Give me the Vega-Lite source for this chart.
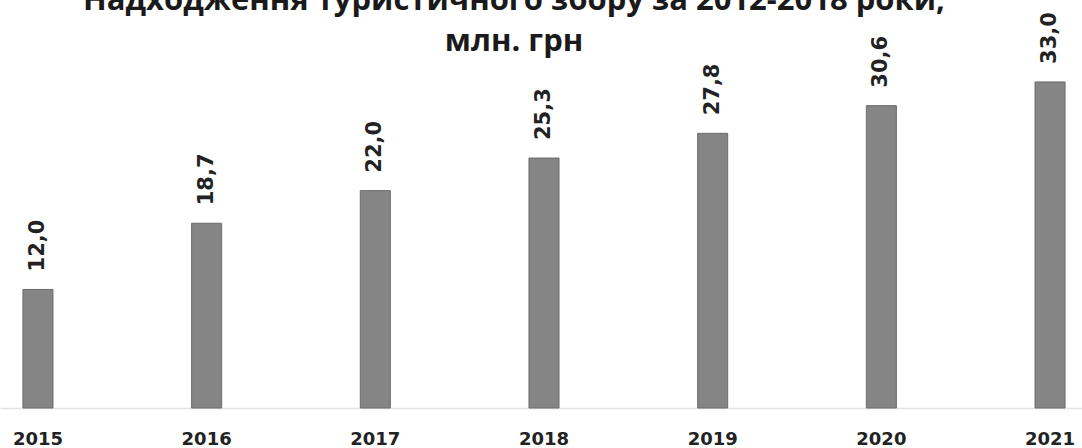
{
  "$schema": "https://vega.github.io/schema/vega-lite/v6.json",
  "autosize": {"type": "none"},
  "width": 1082,
  "height": 338,
  "padding": {"top": 70, "left": 0, "right": 0, "bottom": 40},
  "background": "white",
  "config": {
    "view": {"stroke": null},
    "locale": {"number": {"decimal": ",", "thousands": " ", "grouping": [3], "currency": ["", " грн"]}}
  },
  "title": {
    "text": ["Надходження туристичного збору за 2012-2018 роки,", "млн. грн"],
    "font": "Open Sans",
    "fontSize": 31,
    "fontWeight": "bold",
    "color": "#1a1a1a",
    "lineHeight": 41,
    "baseline": "bottom",
    "offset": 12,
    "dy": 89,
    "dx": -27,
    "anchor": "middle",
    "frame": "group"
  },
  "data": {
    "values": [
      {"year": "2015", "value": 12.0},
      {"year": "2016", "value": 18.7},
      {"year": "2017", "value": 22.0},
      {"year": "2018", "value": 25.3},
      {"year": "2019", "value": 27.8},
      {"year": "2020", "value": 30.6},
      {"year": "2021", "value": 33.0}
    ]
  },
  "encoding": {
    "x": {
      "field": "year",
      "type": "ordinal",
      "scale": {"range": [0, 1088], "paddingInner": 0.822, "paddingOuter": 0.136},
      "axis": {
        "title": null,
        "ticks": false,
        "labelAngle": 0,
        "labelFont": "DejaVu Sans",
        "labelFontWeight": "bold",
        "labelFontSize": 18,
        "labelColor": "#222222",
        "labelPadding": 22,
        "domainColor": "#e2e2e2",
        "domainWidth": 1.5
      }
    },
    "y": {
      "field": "value",
      "type": "quantitative",
      "scale": {"domain": [0, 34.21], "nice": false},
      "axis": null
    }
  },
  "layer": [
    {
      "mark": {"type": "bar", "color": "#858585", "stroke": "#6a6a6a", "strokeWidth": 1}
    },
    {
      "mark": {
        "type": "text",
        "angle": 270,
        "align": "left",
        "baseline": "middle",
        "dx": 18,
        "font": "DejaVu Sans",
        "fontWeight": "bold",
        "fontSize": 21,
        "color": "#222222"
      },
      "encoding": {
        "text": {"field": "value", "type": "quantitative", "format": ".1f"}
      }
    }
  ]
}
